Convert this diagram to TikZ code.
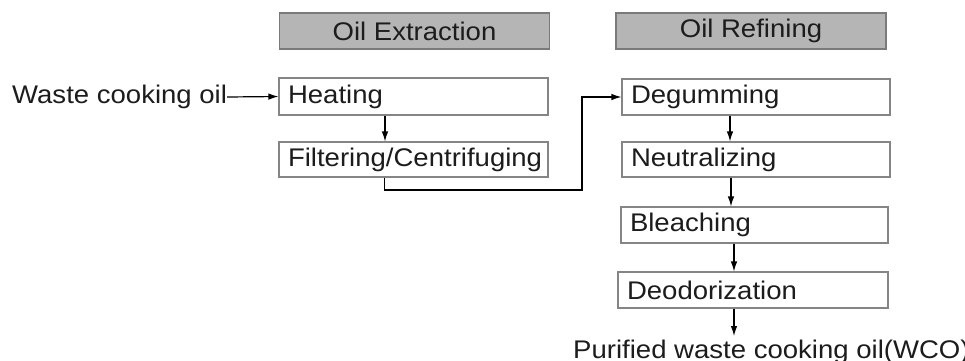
\documentclass[tikz,border=0pt]{standalone}
\usepackage{fontspec}
\setmainfont{Liberation Sans}[FakeStretch=1.08]
\usetikzlibrary{arrows.meta}
\definecolor{hdrfill}{HTML}{B5B5B5}
\definecolor{hdrline}{HTML}{7A7A7A}
\definecolor{boxline}{HTML}{858585}
\definecolor{txt}{HTML}{1C1C1C}
\begin{document}
\begin{tikzpicture}[x=1bp,y=-1bp,
  font=\fontsize{25.5bp}{30bp}\selectfont, text=txt,
  hdr/.style={draw=hdrline, fill=hdrfill, line width=1.2bp, minimum width=270bp, minimum height=36bp, inner sep=0pt},
  procbox/.style={draw=boxline, fill=white, line width=1.1bp, inner xsep=9bp, inner ysep=0pt, align=left, text width=#1},
  procbox/.default=250bp,
  arr/.style={draw=black, line width=1.2bp, -{Latex[length=10bp,width=6.5bp]}},
  conn/.style={draw=black, line width=1.2bp}]
\useasboundingbox (0,0) rectangle (965,360);
% headers
\node[hdr] (h1) at (414.5,31) {Oil Extraction};
\node[hdr] (h2) at (751,31) {Oil Refining};
% extraction boxes
\node[procbox=251bp, minimum height=37bp] (heat) at (413.5,96.5) {Heating};
\node[procbox=251bp, minimum height=35bp] (filt) at (413.5,159.5) {Filtering/Centrifuging};
% refining boxes
\node[procbox=250bp, minimum height=36bp] (deg) at (756,97) {Degumming};
\node[procbox=250bp, minimum height=35bp] (neu) at (756,159.5) {Neutralizing};
\node[procbox=249bp, minimum height=36bp] (ble) at (754.5,225) {Bleaching};
\node[procbox=252bp, minimum height=36bp] (deo) at (753,290) {Deodorization};
% input / output texts
\node[anchor=west, inner sep=0pt] (waste) at (12,97) {Waste cooking oil};
\node[anchor=base west, inner sep=0pt] (pure) at (573,358) {Purified waste cooking oil(WCO)};
% connectors
\draw[arr] (waste.east) -- (heat.west);
\coordinate (a1) at ([xshift=-28.5bp]heat.south);
\draw[arr] (a1) -- (a1 |- filt.north);
\coordinate (a2) at ([xshift=-29bp]filt.south);
\coordinate (bend) at (582,190);
\draw[arr] (a2) |- (bend) |- (deg.west);
\coordinate (a3) at ([xshift=-26bp]deg.south);
\draw[arr] (a3) -- (a3 |- neu.north);
\coordinate (a4) at ([xshift=-25bp]neu.south);
\draw[arr] (a4) -- (a4 |- ble.north);
\coordinate (a5) at ([xshift=-20.5bp]ble.south);
\draw[arr] (a5) -- (a5 |- deo.north);
\coordinate (a6) at ([xshift=-19bp]deo.south);
\coordinate (pend) at (734,336);
\draw[arr] (a6) -- (a6 |- pend);
\end{tikzpicture}
\end{document}
